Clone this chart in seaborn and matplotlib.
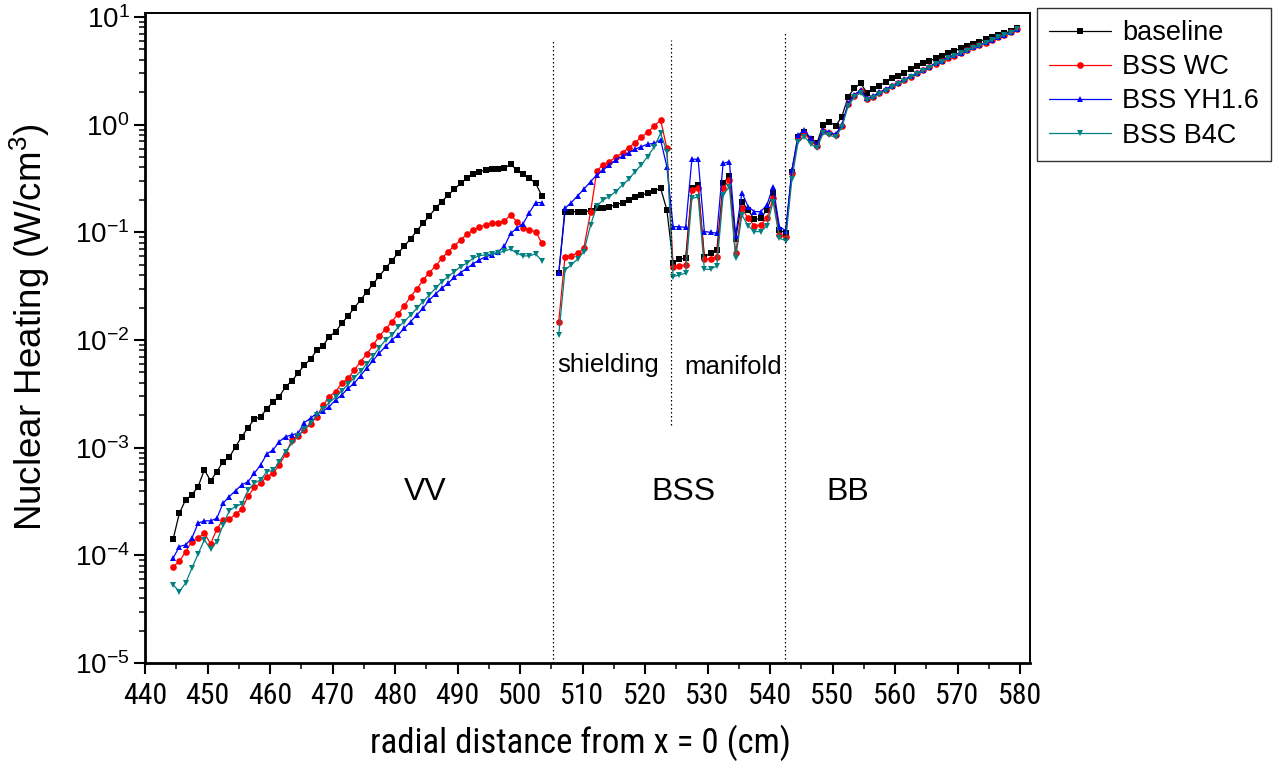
import numpy as np
import pandas as pd
import matplotlib
matplotlib.use("Agg")
import matplotlib.pyplot as plt
import matplotlib.font_manager as fm
import seaborn as sns
from matplotlib.ticker import LogLocator, MultipleLocator, NullFormatter, LogFormatterSciNotation

# ---------------- data (log10 of nuclear heating, W/cm^3) ----------------
series_names = ["baseline", "BSS WC", "BSS YH1.6", "BSS B4C"]

vv_x = [444.5, 445.5, 446.5, 447.5, 448.5, 449.5, 450.5, 451.5, 452.5, 453.5,
        454.5, 455.5, 456.5, 457.5, 458.5, 459.5, 460.5, 461.5, 462.5, 463.5,
        464.5, 465.5, 466.5, 467.5, 468.5, 469.5, 470.5, 471.5, 472.5, 473.5,
        474.5, 475.5, 476.5, 477.5, 478.5, 479.5, 480.5, 481.5, 482.5, 483.5,
        484.5, 485.5, 486.5, 487.5, 488.5, 489.5, 490.5, 491.5, 492.5, 493.5,
        494.5, 495.5, 496.5, 497.5, 498.5, 499.5, 500.5, 501.5, 502.5, 503.5]

bss_x = [506.2, 507.2, 508.2, 509.2, 510.2, 511.3, 512.3, 513.3, 514.3, 515.3,
         516.4, 517.4, 518.4, 519.4, 520.4, 521.5, 522.5,
         523.5, 524.5, 525.5, 526.5, 527.5, 528.5, 529.5, 530.5, 531.5, 532.5,
         533.5, 534.5, 535.5, 536.5, 537.5, 538.5, 539.5, 540.5, 541.5,
         542.5, 543.5, 544.5, 545.5, 546.5, 547.5, 548.5, 549.5, 550.5, 551.5,
         552.5, 553.5, 554.5, 555.5, 556.5, 557.5, 558.5, 559.5, 560.5, 561.5,
         562.5, 563.5, 564.5, 565.5, 566.5, 567.5, 568.5, 569.5, 570.5, 571.5,
         572.5, 573.5, 574.5, 575.5, 576.5, 577.5, 578.5, 579.5]

baseline_vv = [-3.850, -3.608, -3.485, -3.438, -3.361, -3.206, -3.308, -3.222, -3.129, -3.088,
               -2.990, -2.897, -2.813, -2.736, -2.711, -2.640, -2.572, -2.525, -2.433, -2.380,
               -2.308, -2.231, -2.178, -2.092, -2.052, -1.968, -1.922, -1.844, -1.776, -1.700,
               -1.628, -1.551, -1.479, -1.405, -1.334, -1.263, -1.194, -1.126, -1.061, -0.984,
               -0.916, -0.848, -0.776, -0.715, -0.653, -0.600, -0.544, -0.498, -0.461, -0.436,
               -0.421, -0.411, -0.411, -0.405, -0.368, -0.421, -0.461, -0.498, -0.544, -0.662]
wc_vv = [-4.104, -4.057, -3.965, -3.872, -3.841, -3.794, -3.893, -3.754, -3.670, -3.664,
         -3.618, -3.571, -3.448, -3.370, -3.330, -3.268, -3.237, -3.160, -3.058, -2.928,
         -2.890, -2.835, -2.779, -2.711, -2.603, -2.525, -2.479, -2.401, -2.355, -2.278,
         -2.200, -2.130, -2.050, -1.962, -1.900, -1.829, -1.758, -1.680, -1.597, -1.526,
         -1.442, -1.374, -1.312, -1.241, -1.179, -1.126, -1.071, -1.018, -0.978, -0.953,
         -0.931, -0.916, -0.910, -0.894, -0.838, -0.900, -0.956, -0.978, -0.993, -1.101]
yh_vv = [-4.026, -3.918, -3.903, -3.841, -3.701, -3.680, -3.680, -3.655, -3.515, -3.454,
         -3.398, -3.345, -3.315, -3.237, -3.160, -3.058, -3.020, -2.943, -2.897, -2.881,
         -2.866, -2.767, -2.726, -2.680, -2.660, -2.618, -2.556, -2.510, -2.448, -2.401,
         -2.330, -2.260, -2.190, -2.120, -2.060, -2.000, -1.953, -1.891, -1.829, -1.767,
         -1.705, -1.628, -1.572, -1.519, -1.473, -1.417, -1.374, -1.334, -1.293, -1.256,
         -1.226, -1.210, -1.179, -1.130, -1.010, -0.962, -0.920, -0.817, -0.724, -0.724]
b4c_vv = [-4.274, -4.336, -4.258, -4.119, -3.986, -3.856, -3.943, -3.872, -3.717, -3.584,
          -3.547, -3.522, -3.392, -3.330, -3.299, -3.222, -3.212, -3.129, -3.036, -2.960,
          -2.890, -2.830, -2.770, -2.700, -2.640, -2.580, -2.530, -2.470, -2.410, -2.350,
          -2.290, -2.220, -2.150, -2.070, -2.000, -1.953, -1.881, -1.829, -1.767, -1.705,
          -1.643, -1.581, -1.519, -1.458, -1.411, -1.365, -1.318, -1.287, -1.241, -1.216,
          -1.210, -1.200, -1.194, -1.173, -1.157, -1.194, -1.219, -1.219, -1.200, -1.263]

baseline_bss = [-1.380, -0.808, -0.808, -0.808, -0.808, -0.801, -0.776, -0.776, -0.761, -0.746,
                -0.724, -0.699, -0.674, -0.653, -0.637, -0.613, -0.591,
                -0.792, -1.287, -1.250, -1.241, -0.591, -0.560, -1.226, -1.194, -1.163, -0.545,
                -0.476, -1.060, -0.715, -0.792, -0.879, -0.870, -0.792, -0.631, -0.978,
                -1.008, -0.436, -0.111, -0.065, -0.136, -0.173, -0.003, 0.028, -0.012, 0.074,
                0.260, 0.338, 0.384, 0.297, 0.329, 0.359, 0.400, 0.431, 0.452, 0.483,
                0.514, 0.545, 0.570, 0.591, 0.616, 0.638, 0.663, 0.684, 0.709, 0.731,
                0.749, 0.771, 0.793, 0.811, 0.833, 0.848, 0.870, 0.895]
wc_bss = [-1.829, -1.226, -1.219, -1.194, -1.150, -0.808, -0.427, -0.374, -0.343, -0.303,
          -0.260, -0.214, -0.167, -0.117, -0.071, -0.012, 0.044,
          -0.219, -1.318, -1.310, -1.303, -0.606, -0.591, -1.250, -1.245, -1.226, -0.591,
          -0.513, -1.194, -0.776, -0.870, -0.940, -0.931, -0.870, -0.684, -1.024,
          -1.046, -0.450, -0.127, -0.080, -0.150, -0.200, -0.060, -0.080, -0.100, -0.010,
          0.190, 0.270, 0.310, 0.240, 0.260, 0.295, 0.325, 0.355, 0.385, 0.415,
          0.447, 0.477, 0.507, 0.536, 0.566, 0.590, 0.620, 0.642, 0.667, 0.691,
          0.718, 0.737, 0.763, 0.788, 0.813, 0.835, 0.856, 0.886]
yh_bss = [-1.380, -0.776, -0.724, -0.662, -0.600, -0.529, -0.467, -0.421, -0.374, -0.328,
          -0.291, -0.260, -0.229, -0.204, -0.182, -0.173, -0.142,
          -0.390, -0.947, -0.947, -0.955, -0.322, -0.320, -0.993, -1.000, -1.008, -0.359,
          -0.343, -1.030, -0.631, -0.761, -0.808, -0.808, -0.746, -0.576, -0.947,
          -0.984, -0.420, -0.096, -0.049, -0.127, -0.188, -0.049, -0.070, -0.090, 0.000,
          0.200, 0.280, 0.320, 0.245, 0.265, 0.300, 0.330, 0.360, 0.390, 0.420,
          0.450, 0.480, 0.510, 0.540, 0.570, 0.595, 0.625, 0.645, 0.670, 0.695,
          0.720, 0.740, 0.765, 0.790, 0.815, 0.837, 0.858, 0.888]
b4c_bss = [-1.953, -1.349, -1.303, -1.250, -1.180, -0.931, -0.755, -0.699, -0.668, -0.622,
           -0.560, -0.507, -0.436, -0.374, -0.297, -0.204, -0.080,
           -0.251, -1.411, -1.396, -1.380, -0.684, -0.674, -1.343, -1.343, -1.312, -0.653,
           -0.576, -1.241, -0.838, -0.940, -0.993, -0.993, -0.940, -0.715, -1.055,
           -1.077, -0.507, -0.158, -0.111, -0.179, -0.219, -0.080, -0.096, -0.117, -0.024,
           0.174, 0.254, 0.297, 0.229, 0.251, 0.285, 0.316, 0.347, 0.375, 0.406,
           0.440, 0.471, 0.502, 0.530, 0.561, 0.585, 0.616, 0.638, 0.663, 0.687,
           0.715, 0.734, 0.761, 0.786, 0.811, 0.833, 0.854, 0.885]

region_bounds = [505.3, 524.2, 542.4]
region_labels = ["VV", "BSS", "BB"]
sub_labels = ["shielding", "manifold"]

x_ticks = [440, 450, 460, 470, 480, 490, 500, 510, 520, 530, 540, 550, 560, 570, 580]

colors = {"baseline": "#000000", "BSS WC": "#ff0000", "BSS YH1.6": "#0000ff", "BSS B4C": "#008080"}
markers = {"baseline": "s", "BSS WC": "o", "BSS YH1.6": "^", "BSS B4C": "v"}

# ---------------- build long table ----------------
vv_vals = {"baseline": baseline_vv, "BSS WC": wc_vv, "BSS YH1.6": yh_vv, "BSS B4C": b4c_vv}
bss_vals = {"baseline": baseline_bss, "BSS WC": wc_bss, "BSS YH1.6": yh_bss, "BSS B4C": b4c_bss}
rows = []
for name in series_names:
    for xv, lv in zip(vv_x, vv_vals[name]):
        rows.append((name, "VV", xv, 10.0 ** lv))
    for xv, lv in zip(bss_x, bss_vals[name]):
        rows.append((name, "BSS", xv, 10.0 ** lv))
df = pd.DataFrame(rows, columns=["series", "segment", "x", "y"])

# ---------------- fonts ----------------
sns.set_theme(style="ticks")
plt.rcParams["font.family"] = ["Liberation Sans", "DejaVu Sans"]
plt.rcParams["mathtext.fontset"] = "custom"
plt.rcParams["mathtext.rm"] = "Liberation Sans"
plt.rcParams["mathtext.it"] = "Liberation Sans:italic"
plt.rcParams["mathtext.bf"] = "Liberation Sans:bold"
for key in ["text.color", "axes.labelcolor", "xtick.color", "ytick.color", "axes.edgecolor"]:
    plt.rcParams[key] = "black"

installed = {f.name for f in fm.fontManager.ttflist}
narrow_name = None
for cand in ["Liberation Sans Narrow", "Arial Narrow", "DejaVu Sans Condensed", "Roboto Condensed"]:
    if cand in installed:
        narrow_name = cand
        break
if narrow_name is not None:
    narrow = [narrow_name, "Liberation Sans"]
    xtick_size, xlabel_size = 21.5, 25
else:
    narrow = ["Liberation Sans", "DejaVu Sans"]
    xtick_size, xlabel_size = 19, 22.5

# ---------------- figure ----------------
fig = plt.figure(figsize=(12.77, 7.75), dpi=100)
ax = fig.add_axes([145 / 1277, 112 / 775, 885 / 1277, 650 / 775])

sns.lineplot(data=df, x="x", y="y", hue="series", style="series", units="segment",
             estimator=None, hue_order=series_names, style_order=series_names,
             palette=colors, markers=markers, dashes=False, sort=True,
             linewidth=0.9, markersize=4.8, markeredgewidth=0, ax=ax)

ax.set_yscale("log")
ax.set_xlim(440, 581.6)
ax.set_ylim(1e-5, 10 ** 1.037)

# region dividers
dot = (0, (1.2, 2.0))
ax.vlines(region_bounds[0], 1e-5, 10 ** 0.786, colors="black", linewidth=0.9, linestyles=dot)
ax.vlines(region_bounds[1], 10 ** -2.79, 10 ** 0.79, colors="black", linewidth=0.9, linestyles=dot)
ax.vlines(region_bounds[2], 1e-5, 10 ** 0.85, colors="black", linewidth=0.9, linestyles=dot)

ax.text(484.8, 10 ** -3.41, region_labels[0], fontsize=23, ha="center", va="center")
ax.text(526.1, 10 ** -3.41, region_labels[1], fontsize=23, ha="center", va="center")
ax.text(552.5, 10 ** -3.41, region_labels[2], fontsize=23, ha="center", va="center")
ax.text(514.1, 10 ** -2.23, sub_labels[0], fontsize=18.5, ha="center", va="center")
ax.text(534.1, 10 ** -2.25, sub_labels[1], fontsize=18.5, ha="center", va="center")

# axes styling
ax.xaxis.set_major_locator(plt.FixedLocator(x_ticks))
ax.xaxis.set_minor_locator(MultipleLocator(5))
ax.yaxis.set_major_locator(LogLocator(base=10, numticks=10))
ax.yaxis.set_minor_locator(LogLocator(base=10, subs=np.arange(2, 10), numticks=20))
ax.yaxis.set_major_formatter(LogFormatterSciNotation())
ax.yaxis.set_minor_formatter(NullFormatter())

ax.tick_params(axis="both", which="major", direction="out", length=8, width=1.5, color="black")
ax.tick_params(axis="both", which="minor", direction="out", length=4, width=1.1, color="black")
ax.tick_params(axis="x", which="major", labelsize=xtick_size, pad=6, labelfontfamily=narrow,
               labelcolor="black")
ax.tick_params(axis="y", which="major", labelsize=20, pad=3, labelcolor="black")
ax.tick_params(top=False, right=False, which="both")

for side in ["left", "bottom"]:
    ax.spines[side].set_linewidth(2.0)
for side in ["top", "right"]:
    ax.spines[side].set_linewidth(1.4)
for sp in ax.spines.values():
    sp.set_color("black")

ax.set_xlabel("radial distance from x = 0 (cm)", fontsize=xlabel_size, fontfamily=narrow, color="black")
ax.set_ylabel("Nuclear Heating (W/cm$^3$)", fontsize=26.5, color="black")
ax.xaxis.set_label_coords(0.4915, -0.094)
ax.yaxis.set_label_coords(-0.105, 0.517)
ax.xaxis.label.set_va("top")

sns.move_legend(ax, "upper left", bbox_to_anchor=(1037 / 1277, 1 - 8 / 775),
                bbox_transform=fig.transFigure, title=None, frameon=True,
                fontsize=19.5, handlelength=2.3, borderaxespad=0, fancybox=False,
                edgecolor="#333333", labelspacing=0.3, handletextpad=0.4,
                borderpad=0.45, framealpha=1)
leg = ax.get_legend()
leg.get_frame().set_linewidth(1.0)
for t in leg.get_texts():
    t.set_color("black")

fig.savefig("out.png", dpi=100)
